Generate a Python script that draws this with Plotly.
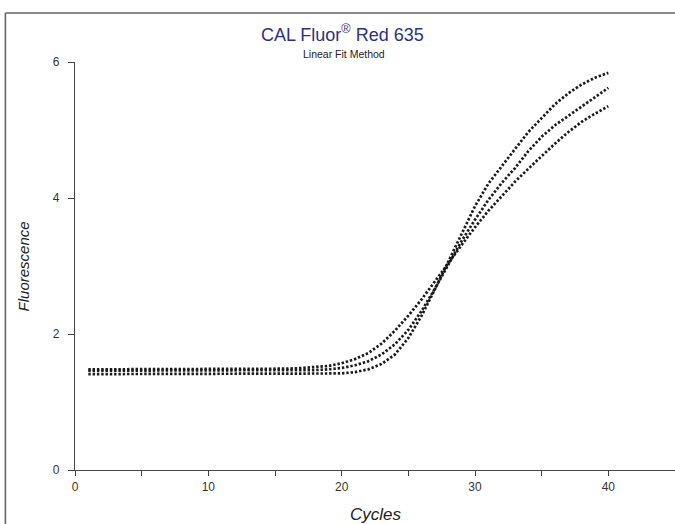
import plotly.graph_objects as go

cycles = list(range(1, 41))

# Curve ending highest (steepest, latest rise)
curve_a = [1.41]*19 + [1.42, 1.44, 1.48, 1.56, 1.70, 1.94, 2.27, 2.66, 3.06, 3.48,
                        3.88, 4.21, 4.47, 4.72, 4.97, 5.18, 5.38, 5.54, 5.67, 5.77, 5.84]
# Middle curve
curve_b = [1.46]*17 + [1.47, 1.48, 1.50, 1.54, 1.60, 1.70, 1.85, 2.06, 2.34, 2.67,
                        3.02, 3.37, 3.68, 3.97, 4.22, 4.44, 4.69, 4.90, 5.07, 5.21,
                        5.35, 5.49, 5.62]
# Curve ending lowest (earliest rise)
curve_c = [1.48]*15 + [1.49, 1.50, 1.51, 1.53, 1.57, 1.63, 1.72, 1.86, 2.05, 2.27,
                        2.51, 2.77, 3.04, 3.31, 3.57, 3.81, 4.03, 4.24, 4.43, 4.62,
                        4.80, 4.97, 5.12, 5.24, 5.35]

x_major = [0, 10, 20, 30, 40]
y_major = [0, 2, 4, 6]

fig = go.Figure()
for ys in (curve_a, curve_b, curve_c):
    fig.add_trace(go.Scatter(
        x=cycles, y=ys, mode="lines",
        line=dict(color="#1a1a1a", width=2.7, dash="2.4px,1.9px"),
        hoverinfo="skip", showlegend=False, cliponaxis=False,
    ))

axis_col = "#444444"
fig.update_layout(
    width=675, height=524,
    margin=dict(l=75, r=0, t=62, b=54),
    paper_bgcolor="white", plot_bgcolor="white",
    font=dict(family="Liberation Sans, Arial, sans-serif", color="#333333", size=12),
    xaxis=dict(
        range=[0, 45], showgrid=False, zeroline=False,
        showline=True, linecolor=axis_col, linewidth=1.2,
        ticks="outside", ticklen=5, tickcolor=axis_col, tickwidth=1,
        tickmode="array", tickvals=x_major, ticktext=[str(v) for v in x_major],
        minor=dict(dtick=5, tick0=0, ticks="outside", ticklen=5,
                   tickcolor=axis_col, tickwidth=1, showgrid=False),
        tickfont=dict(size=12, color="#333333"),
    ),
    yaxis=dict(
        range=[0, 6], showgrid=False, zeroline=False,
        showline=True, linecolor=axis_col, linewidth=1.2,
        ticks="outside", ticklen=6, tickcolor=axis_col, tickwidth=1,
        tickmode="array", tickvals=y_major, ticktext=[str(v) for v in y_major],
        ticklabelstandoff=6,
        tickfont=dict(size=12, color="#333333"),
    ),
    annotations=[
        dict(text="CAL Fluor<sup>®</sup> Red 635", xref="paper", yref="paper",
             x=0.445, y=1.071, xanchor="center", yanchor="middle", showarrow=False,
             font=dict(size=18, color="#2e3180")),
        dict(text="Linear Fit Method", xref="paper", yref="paper",
             x=0.448, y=1.0196, xanchor="center", yanchor="middle", showarrow=False,
             font=dict(size=10.5, color="#222222")),
        dict(text="<i>Fluorescence</i>", xref="paper", yref="paper",
             x=-0.086, y=0.5, xanchor="center", yanchor="middle", textangle=-90,
             showarrow=False, font=dict(size=15, color="#222222")),
        dict(text="<i>Cycles</i>", xref="paper", yref="paper",
             x=0.502, y=-0.110, xanchor="center", yanchor="middle",
             showarrow=False, font=dict(size=17, color="#222222")),
    ],
    shapes=[
        dict(type="line", xref="paper", yref="paper", x0=-0.116, x1=1.05,
             y0=1.12, y1=1.12, line=dict(color="#666666", width=1.6)),
        dict(type="line", xref="paper", yref="paper", x0=-0.116, x1=-0.116,
             y0=1.12, y1=-0.2, line=dict(color="#666666", width=1.6)),
    ],
)

fig.write_html(
    "out.html",
    config={"displayModeBar": False, "staticPlot": True},
    post_script="document.body.style.margin='0';document.body.style.overflow='hidden';",
)
